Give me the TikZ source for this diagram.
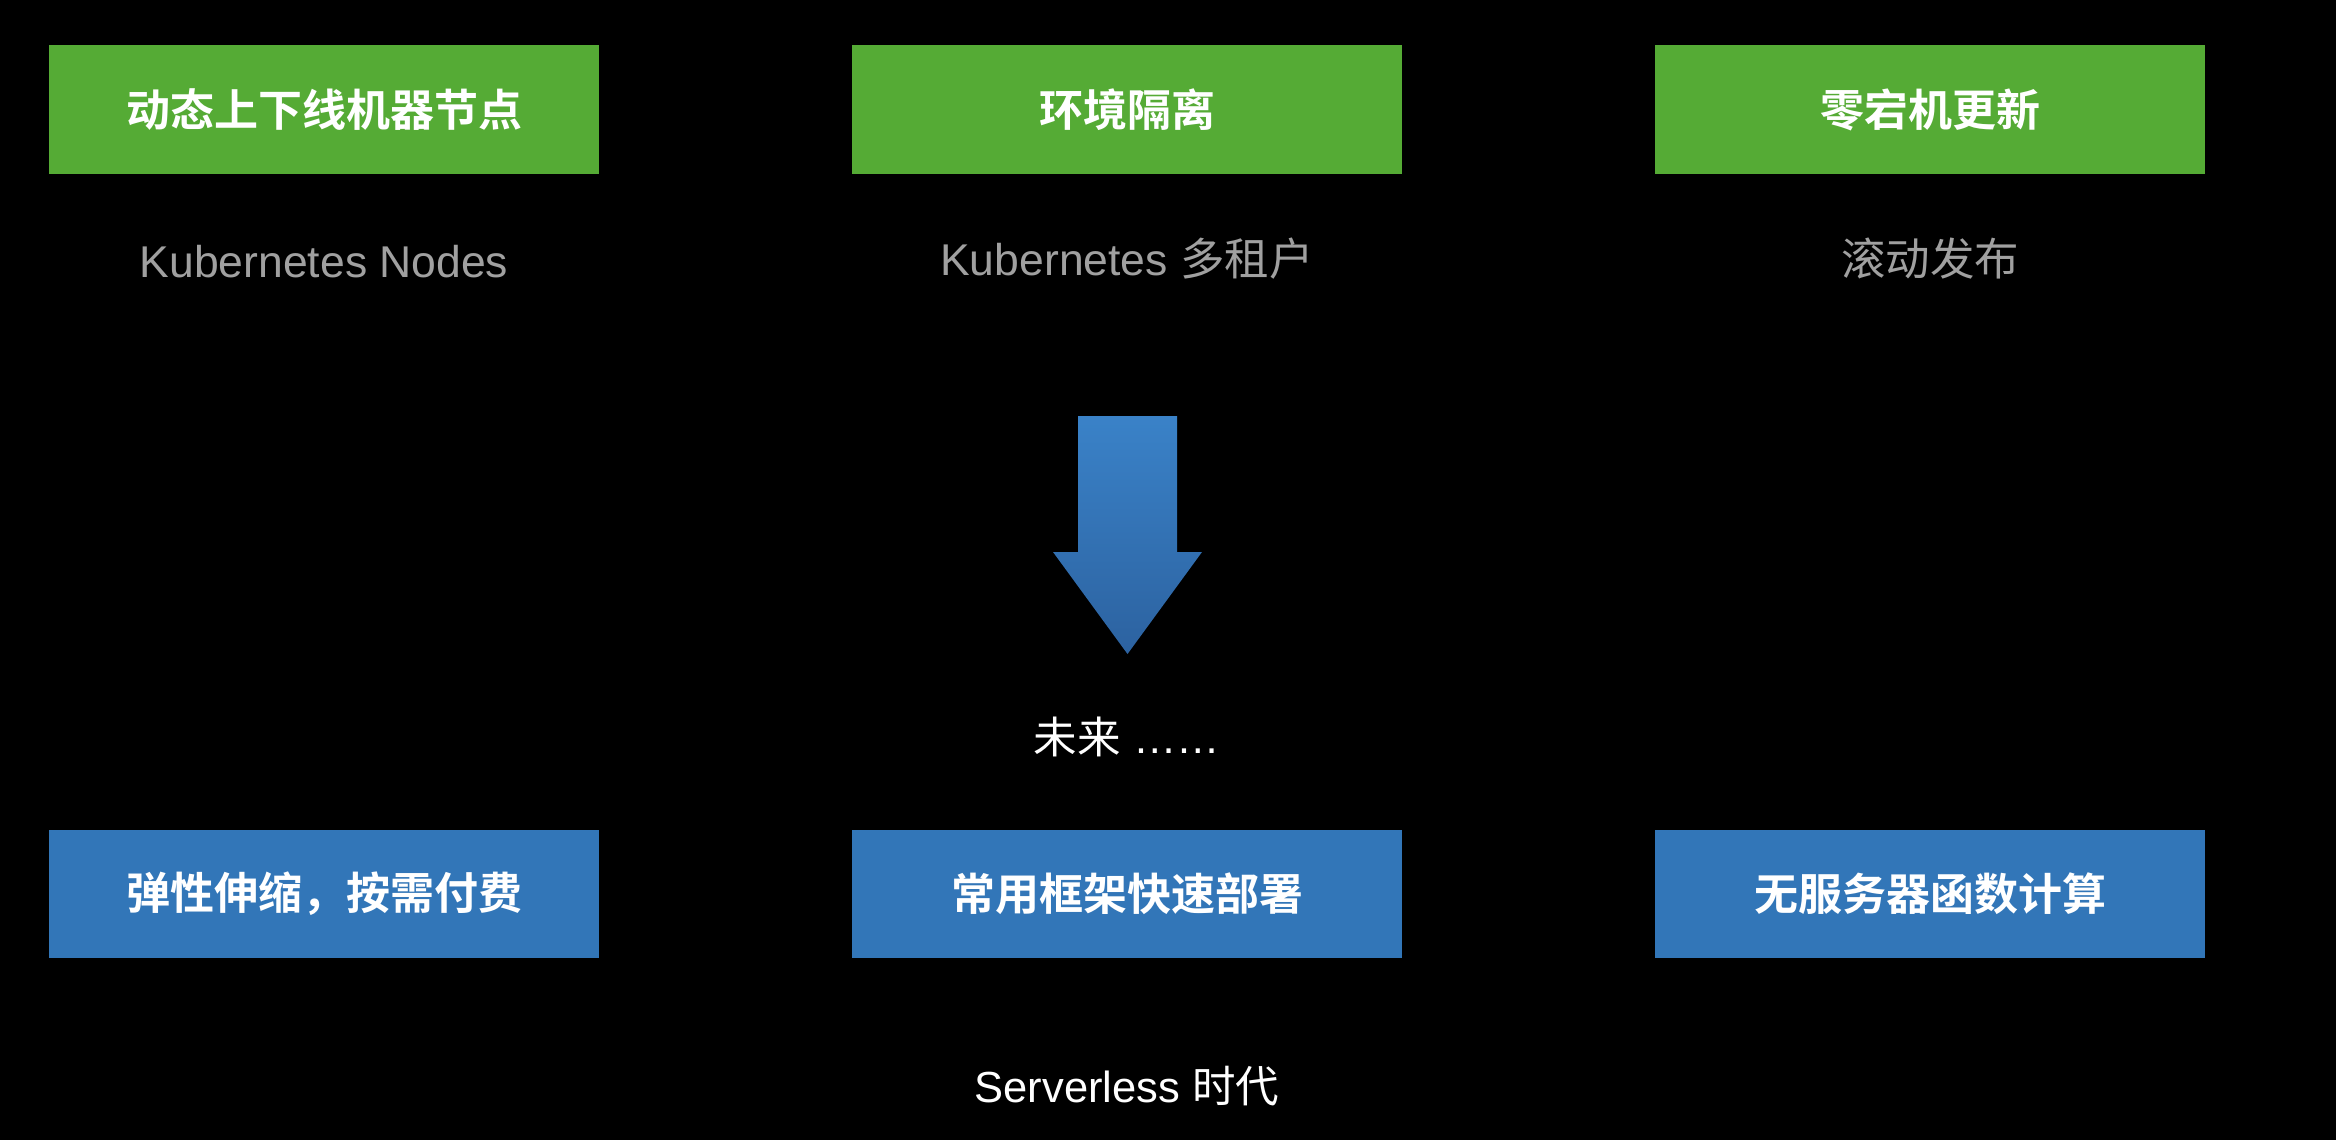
\documentclass[tikz,border=0pt]{standalone}
\usepackage{fontspec}
\setmainfont{Liberation Sans}
\newfontfamily\cjk{Noto Sans CJK SC}
\newfontfamily\cjkb{Noto Sans CJK SC Bold}
\definecolor{boxgreen}{HTML}{55AB35}
\definecolor{boxblue}{HTML}{3276B8}
\definecolor{subgray}{HTML}{A0A0A0}
\definecolor{arrtop}{HTML}{3A82C8}
\definecolor{arrbot}{HTML}{2C62A0}
\begin{document}
\begin{tikzpicture}[x=1pt,y=-1pt,
  gbox/.style={fill=boxgreen,draw=none,minimum width=550pt,minimum height=129pt,inner sep=0pt,
    text=white,font=\fontsize{44}{52}\selectfont\cjkb},
  bbox/.style={fill=boxblue,draw=none,minimum width=550pt,minimum height=128pt,inner sep=0pt,
    text=white,font=\fontsize{44}{52}\selectfont\cjkb},
  sub/.style={text=subgray,font=\fontsize{44.5}{52}\selectfont,anchor=base,inner sep=0pt},
  wtxt/.style={text=white,font=\fontsize{43.5}{52}\selectfont,anchor=base,inner sep=0pt}]
\fill[black] (0,0) rectangle (2336,1140);
\useasboundingbox (0,0) rectangle (2336,1140);
% green boxes
\node[gbox] (g1) at (324,109.5) {动态上下线机器节点};
\node[gbox] (g2) at (1127,109.5) {环境隔离};
\node[gbox] (g3) at (1930,109.5) {零宕机更新};
% subtitles
\node[sub] (s1) at (324,277) {Kubernetes Nodes};
\node[sub] (s2) at (1127,275) {Kubernetes {\cjk 多租户}};
\node[sub] (s3) at (1930,275) {\cjk 滚动发布};
% arrow
\shade[top color=arrtop,bottom color=arrbot]
  (1078,416) -- (1177,416) -- (1177,552) -- (1202,552) -- (1127.5,654) -- (1053,552) -- (1078,552) -- cycle;
% future
\node[wtxt] (fut) at (1127,753) {{\cjk 未来} ……};
% blue boxes
\node[bbox] (b1) at (324,894) {弹性伸缩，按需付费};
\node[bbox] (b2) at (1127,894) {常用框架快速部署};
\node[bbox] (b3) at (1930,894) {无服务器函数计算};
% era
\node[wtxt] (era) at (1127,1102) {Serverless {\cjk 时代}};
\end{tikzpicture}
\end{document}
